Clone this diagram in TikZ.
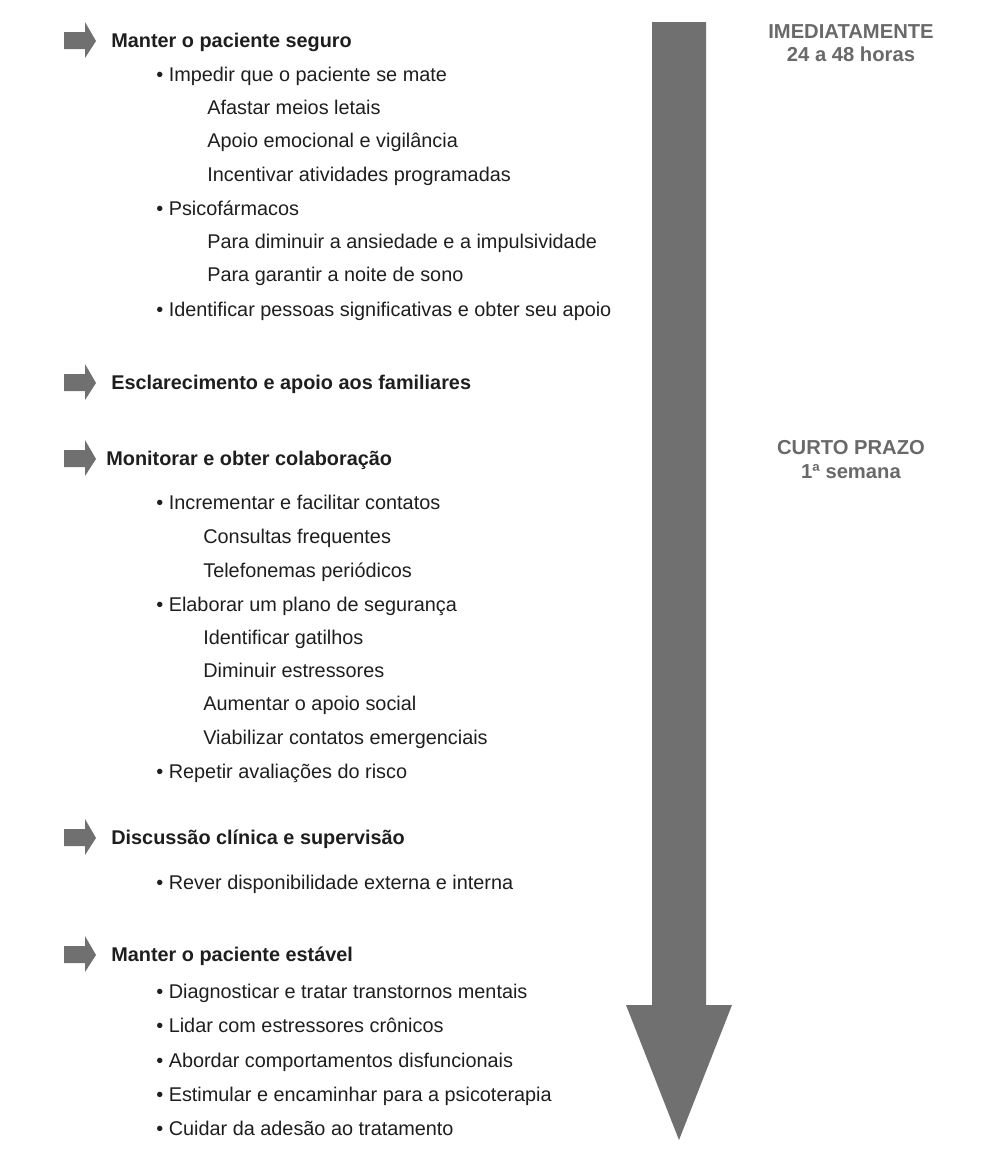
\documentclass[tikz,border=0pt]{standalone}
\usepackage{fontspec}
\setmainfont{Liberation Sans}
\usepackage{xcolor}
\usepackage{tikz}
\definecolor{arrowgray}{RGB}{112,112,112}
\definecolor{labelgray}{RGB}{105,105,105}
\definecolor{textdark}{RGB}{30,30,30}

\begin{document}
\begin{tikzpicture}[x=0.02cm,y=-0.02cm,
    every node/.style={font=\fontsize{11.3}{13}\selectfont,text=textdark,inner sep=0pt,
      anchor=west,text height=1.6ex,text depth=0.3ex},
    head/.style={font=\fontsize{11.3}{13}\selectfont\bfseries},
    period/.style={font=\fontsize{11.5}{13}\selectfont\bfseries,text=labelgray,anchor=center}]
    \useasboundingbox (0,0) rectangle (984,1163);

    % Time axis
    \fill[arrowgray] (652,22) -- (706,22) -- (706,1005) -- (732,1005)
      -- (679,1140) -- (626,1005) -- (652,1005) -- cycle;
    \node[period] (imed) at (851,32) {IMEDIATAMENTE};
    \node[period] (imedh) at (851,55) {24 a 48 horas};
    \node[period] (curto) at (851,448) {CURTO PRAZO};
    \node[period] (curtos) at (851,472) {1ª semana};

    % Heading arrows
    \foreach \y in {41,383,459,838,955}
      \fill[arrowgray] (64,\y-9) -- (85,\y-9) -- (85,\y-19) -- (96,\y)
        -- (85,\y+17) -- (85,\y+8) -- (64,\y+8) -- cycle;

    % Manter o paciente seguro
    \node[head] (seguro) at (111,41) {Manter o paciente seguro};
    \node (impedir) at (156,75) {• Impedir que o paciente se mate};
    \node (afastar) at (207,108) {Afastar meios letais};
    \node (apoio) at (207,141) {Apoio emocional e vigilância};
    \node (incent) at (207,175) {Incentivar atividades programadas};
    \node (psico) at (156,209) {• Psicofármacos};
    \node (diminuir) at (207,242) {Para diminuir a ansiedade e a impulsividade};
    \node (garantir) at (207,275) {Para garantir a noite de sono};
    \node (identif) at (156,310) {• Identificar pessoas significativas e obter seu apoio};

    % Esclarecimento
    \node[head] (familia) at (111,383) {Esclarecimento e apoio aos familiares};

    % Monitorar
    \node[head] (monitor) at (106,459) {Monitorar e obter colaboração};
    \node (increm) at (156,503) {• Incrementar e facilitar contatos};
    \node (consult) at (203,537) {Consultas frequentes};
    \node (telef) at (203,571) {Telefonemas periódicos};
    \node (plano) at (156,605) {• Elaborar um plano de segurança};
    \node (gatilho) at (203,638) {Identificar gatilhos};
    \node (estress) at (203,671) {Diminuir estressores};
    \node (social) at (203,704) {Aumentar o apoio social};
    \node (emerg) at (203,738) {Viabilizar contatos emergenciais};
    \node (repetir) at (156,772) {• Repetir avaliações do risco};

    % Discussao
    \node[head] (discuss) at (111,838) {Discussão clínica e supervisão};
    \node (rever) at (156,883) {• Rever disponibilidade externa e interna};

    % Manter o paciente estavel
    \node[head] (estavel) at (111,955) {Manter o paciente estável};
    \node (diagn) at (156,992) {• Diagnosticar e tratar transtornos mentais};
    \node (lidar) at (156,1026) {• Lidar com estressores crônicos};
    \node (abordar) at (156,1061) {• Abordar comportamentos disfuncionais};
    \node (estim) at (156,1095) {• Estimular e encaminhar para a psicoterapia};
    \node (cuidar) at (156,1129) {• Cuidar da adesão ao tratamento};
  \end{tikzpicture}
\end{document}
